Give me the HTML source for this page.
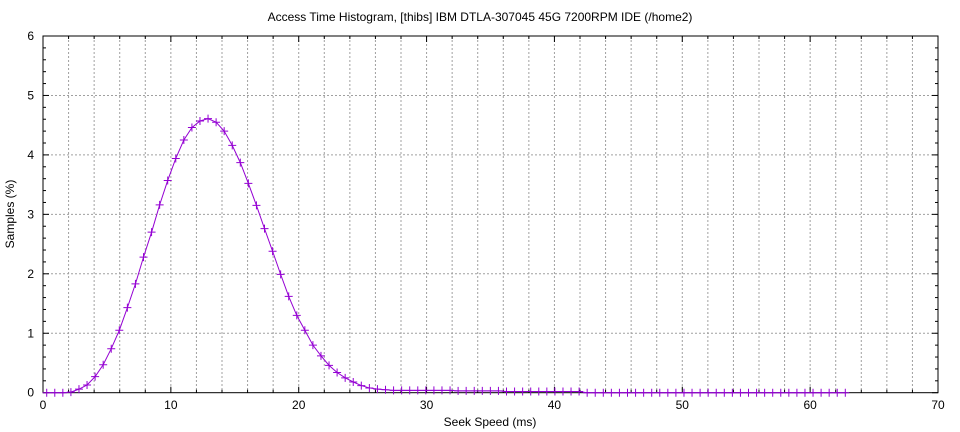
<!DOCTYPE html>
<html><head><meta charset="utf-8"><style>
html,body{margin:0;padding:0;background:#fff;}
svg{display:block;font-family:"Liberation Sans",sans-serif;}
</style></head><body>
<svg id="s" width="960" height="432" xmlns="http://www.w3.org/2000/svg"></svg>
<script>
const s=document.getElementById('s');
const X0=43,X1=938,Y0=392.7,Y6=36;
const px=v=>X0+(X1-X0)*v/70, py=v=>Y0-(Y0-Y6)*v/6;
let h='';
for(let x=2;x<70;x+=2) h+=`<line x1="${px(x)}" y1="${Y6}" x2="${px(x)}" y2="${Y0}" stroke="#a0a0a0" stroke-dasharray="2,2" stroke-width="1"/>`;
for(let y=1;y<=6;y++) h+=`<line x1="${X0}" y1="${py(y)}" x2="${X1}" y2="${py(y)}" stroke="#a0a0a0" stroke-dasharray="2,2" stroke-width="1"/>`;
h+=`<rect x="${X0}" y="${Y6}" width="${X1-X0}" height="${Y0-Y6}" fill="none" stroke="#000" stroke-width="1"/>`;
for(let x=0;x<=70;x+=2){const l=x%10==0?6:3;h+=`<line x1="${px(x)}" y1="${Y0}" x2="${px(x)}" y2="${Y0-l}" stroke="#000"/><line x1="${px(x)}" y1="${Y6}" x2="${px(x)}" y2="${Y6+l}" stroke="#000"/>`;}
for(let i=0;i<=30;i++){const y=i/5,l=i%5==0?6:3;h+=`<line x1="${X0}" y1="${py(y)}" x2="${X0+l}" y2="${py(y)}" stroke="#000"/><line x1="${X1}" y1="${py(y)}" x2="${X1-l}" y2="${py(y)}" stroke="#000"/>`;}
for(let x=0;x<=70;x+=10) h+=`<text x="${px(x)}" y="409" font-size="12" text-anchor="middle">${x}</text>`;
for(let y=0;y<=6;y++) h+=`<text x="34" y="${py(y)+4}" font-size="12" text-anchor="end">${y}</text>`;
h+=`<text x="480" y="21" font-size="12" text-anchor="middle">Access Time Histogram, [thibs] IBM DTLA-307045 45G 7200RPM IDE (/home2)</text>`;
h+=`<text x="490" y="426" font-size="12" text-anchor="middle">Seek Speed (ms)</text>`;
h+=`<text transform="translate(14,214) rotate(-90)" font-size="12" text-anchor="middle">Samples (%)</text>`;
const v=[0,0,0,0.01,0.06,0.13,0.27,0.47,0.74,1.05,1.43,1.83,2.28,2.70,3.16,3.57,3.94,4.25,4.46,4.57,4.61,4.55,4.40,4.16,3.87,3.52,3.15,2.76,2.38,1.99,1.62,1.30,1.05,0.80,0.62,0.46,0.34,0.25,0.18,0.12,0.08,0.06,0.05];
const N=100,dx=62.46/99;
let pts=[];
for(let i=0;i<N;i++){const x=0.29+i*dx;let y;
 if(i<v.length)y=v[i];else if(x<32)y=0.04;else if(x<36)y=0.03;else if(x<42.3)y=0.02;else y=0;
 pts.push([px(x),py(y)]);}
h+=`<polyline points="${pts.map(p=>p.join(',')).join(' ')}" fill="none" stroke="#9400d3" stroke-width="1"/>`;
for(const [x,y] of pts) h+=`<path d="M${x-4},${y}H${x+4}M${x},${y-4}V${y+4}" stroke="#9400d3" stroke-width="1"/>`;
s.innerHTML=h;
</script>
</body></html>
